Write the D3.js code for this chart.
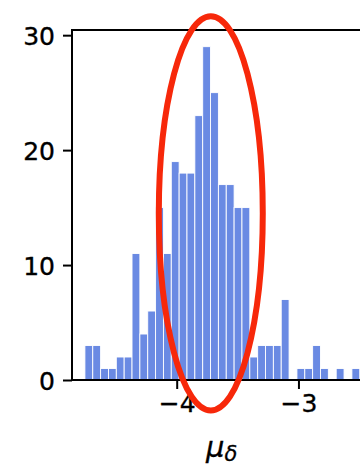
<!DOCTYPE html>
<html>
<head>
<meta charset="utf-8">
<script src="https://cdn.jsdelivr.net/npm/d3@7/dist/d3.min.js"></script>
<style>
  html, body { margin: 0; padding: 0; background: #fff; }
  svg { display: block; }
  text { font-family: "DejaVu Sans", sans-serif; fill: #000; }
</style>
</head>
<body>
<svg id="chart" width="360" height="466"></svg>
<script>
// Histogram of mu_delta: counts per bin, evenly spaced bins
const binStart = -4.754;
const binWidth = 0.0645;
const counts = [3, 3, 1, 1, 2, 2, 11, 4, 6, 15, 11, 19, 18, 18, 23, 29, 25, 17, 17, 15, 15,
                2, 3, 3, 3, 7, 0, 1, 1, 3, 1, 0, 1, 0, 1];
const xTicks = [-4, -3];
const yTicks = [0, 10, 20, 30];
const xDomain = [-4.86, -2.40];
const yDomain = [0, 30.45];
// highlighted region (data units): centre and half-widths
const highlight = { cx: -3.72, cy: 14.5, rx: 0.427, ry: 17.15 };

const bins = counts.map((c, i) => ({
  x0: binStart + i * binWidth,
  x1: binStart + (i + 1) * binWidth,
  count: c
}));

const svg = d3.select("#chart");
const padLeft = 72, padTop = 30, axisBottom = 380;
const plotW = 299.5;

const x = d3.scaleLinear().domain(xDomain).range([padLeft, padLeft + plotW]);
const y = d3.scaleLinear().domain(yDomain).range([axisBottom, padTop]);

// bars
svg.append("g")
  .selectAll("rect")
  .data(bins.filter(b => b.count > 0))
  .join("rect")
  .attr("x", d => x(d.x0))
  .attr("y", d => y(d.count))
  .attr("width", d => x(d.x1) - x(d.x0))
  .attr("height", d => y(0) - y(d.count))
  .attr("fill", "#6a8ae3")
  .attr("stroke", "#ffffff")
  .attr("stroke-width", 0.9);

// frame
svg.append("rect")
  .attr("x", padLeft).attr("y", padTop)
  .attr("width", plotW).attr("height", axisBottom - padTop)
  .attr("fill", "none").attr("stroke", "#000").attr("stroke-width", 2);

// axes
const yAxis = d3.axisLeft(y).tickValues(yTicks).tickSize(9).tickPadding(8).tickFormat(d3.format("d"));
const gy = svg.append("g").attr("transform", `translate(${padLeft},0)`).call(yAxis);
gy.select(".domain").remove();
gy.selectAll(".tick line").attr("stroke", "#000").attr("stroke-width", 2);
gy.selectAll(".tick text").attr("font-size", 25).attr("font-family", "DejaVu Sans")
  .attr("dy", "0.36em").attr("stroke", "#000").attr("stroke-width", 0.35);

const xAxis = d3.axisBottom(x).tickValues(xTicks).tickSize(9).tickPadding(5)
  .tickFormat(d => d < 0 ? "\u2212" + Math.abs(d) : String(d));
const gx = svg.append("g").attr("transform", `translate(0,${axisBottom})`).call(xAxis);
gx.select(".domain").remove();
gx.selectAll(".tick line").attr("stroke", "#000").attr("stroke-width", 2);
gx.selectAll(".tick text").attr("font-size", 25).attr("font-family", "DejaVu Sans")
  .attr("stroke", "#000").attr("stroke-width", 0.35);

// x label: mu with subscript delta
const xl = svg.append("text")
  .attr("x", padLeft + plotW / 2)
  .attr("y", 457)
  .attr("text-anchor", "middle")
  .attr("stroke", "#000").attr("stroke-width", 0.3);
xl.append("tspan").attr("font-size", 29).attr("font-style", "italic").text("\u03BC");
xl.append("tspan").attr("font-size", 21).attr("font-style", "italic").attr("dy", 4).text("\u03B4");

// hand-drawn highlight ellipse
svg.append("ellipse")
  .attr("cx", x(highlight.cx))
  .attr("cy", y(highlight.cy))
  .attr("rx", x(highlight.cx + highlight.rx) - x(highlight.cx))
  .attr("ry", y(highlight.cy - highlight.ry) - y(highlight.cy))
  .attr("fill", "none")
  .attr("stroke", "#f7280a")
  .attr("stroke-width", 6);
</script>
</body>
</html>
